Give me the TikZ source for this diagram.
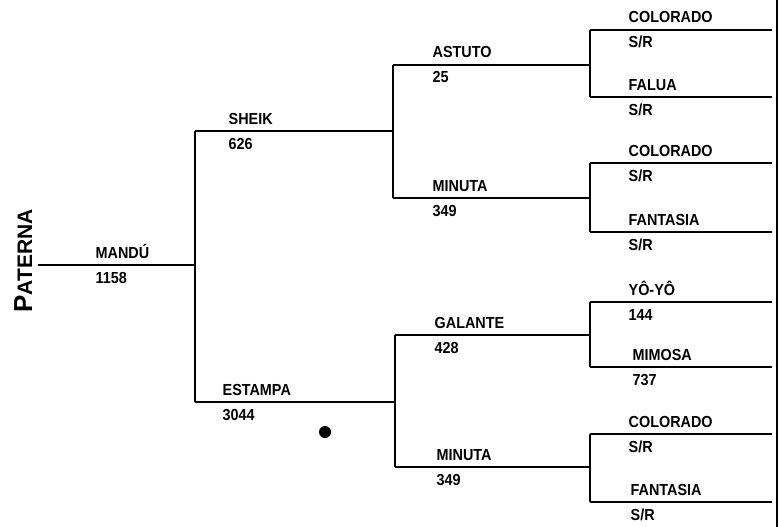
\documentclass[tikz,border=0pt]{standalone}
\usepackage{fontspec}
\newfontfamily\pedfont{Liberation Sans Bold}[FakeStretch=0.9]
\newfontfamily\sidefont{Liberation Sans Bold}

\begin{document}
\begin{tikzpicture}[x=1pt, y=-1pt, line width=1.3pt,
    font=\pedfont\fontsize{16}{18}\selectfont,
    horse/.style={anchor=base west, inner sep=0pt, yshift=7pt},
    regnum/.style={anchor=base west, inner sep=0pt, yshift=-18pt}]
  \useasboundingbox (0,0) rectangle (782,527);
  % one line per horse: name above, register number below
  \foreach \id/\xa/\xb/\y/\tx/\nm/\nr in {
      mandu/38/195/265/95/MANDÚ/1158,
      sheik/195/393/131/228/SHEIK/626,
      estampa/195/395/402/222/ESTAMPA/3044,
      astuto/393/590/65/432/ASTUTO/25,
      minutaA/393/590/198/432/MINUTA/349,
      galante/395/590/335/434/GALANTE/428,
      minutaB/395/590/467/436/MINUTA/349,
      coloradoA/590/772/30/628/COLORADO/{S/R},
      falua/590/772/97/628/FALUA/{S/R},
      coloradoB/590/772/163/628/COLORADO/{S/R},
      fantasiaA/590/772/232/628/FANTASIA/{S/R},
      yoyo/590/772/302/628/YÔ-YÔ/144,
      mimosa/590/772/367/632/MIMOSA/737,
      coloradoC/590/772/434/628/COLORADO/{S/R},
      fantasiaB/590/772/502/630/FANTASIA/{S/R}} {
    \draw (\xa,\y) coordinate (\id-a) -- (\xb,\y) coordinate (\id-b);
    \node[horse] (\id) at (\tx,\y) {\nm};
    \node[regnum] (\id-n) at (\tx,\y) {\nr};
  }
  % brackets
  \draw (sheik-a) -- (estampa-a);
  \draw (astuto-a) -- (minutaA-a);
  \draw (galante-a) -- (minutaB-a);
  \foreach \s/\d in {coloradoA/falua, coloradoB/fantasiaA, yoyo/mimosa, coloradoC/fantasiaB}
    \draw (\s-a) -- (\d-a);
  % right edge
  \draw (777,0) coordinate (edge-t) -- (777,527) coordinate (edge-b);
  \node[rotate=90, anchor=base west, inner sep=0pt, font=\sidefont] (paterna) at (32,313)
    {\fontsize{26}{26}\selectfont P\fontsize{21}{21}\selectfont ATERNA};
  \fill (325,432) circle (6pt);
\end{tikzpicture}
\end{document}
